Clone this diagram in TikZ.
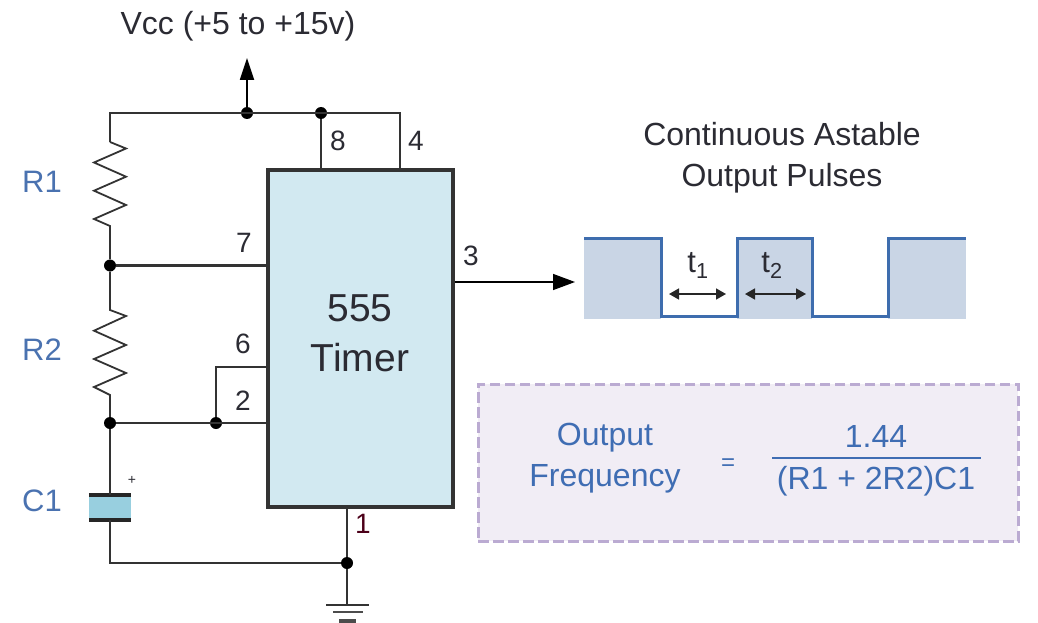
\documentclass[tikz,border=0pt]{standalone}
\usepackage{fontspec}
\setmainfont{Liberation Sans}
\usetikzlibrary{arrows.meta}
\definecolor{wirec}{HTML}{333333}
\definecolor{bluetxt}{HTML}{4A72B0}
\definecolor{formtxt}{HTML}{3F6DB3}
\definecolor{chipfill}{HTML}{D2E9F1}
\definecolor{capfill}{HTML}{98CFDF}
\definecolor{pulsefill}{HTML}{C9D5E5}
\definecolor{pulseline}{HTML}{3E6DAE}
\definecolor{boxfill}{HTML}{F1EDF5}
\definecolor{boxline}{HTML}{BBABD2}
\definecolor{darktxt}{HTML}{2B2B33}
\tikzset{
  wire/.style={draw=wirec,line width=1.8pt,line join=miter},
  chip/.style={draw=black!80,fill=chipfill,line width=3.5pt,minimum width=185pt,minimum height=337pt,inner sep=0pt},
  dot/.style={circle,fill=black,inner sep=0pt,minimum size=12pt},
  txt/.style={inner sep=0pt,anchor=base,text=darktxt,font=\fontsize{32}{36}\selectfont},
  big/.style={txt,font=\fontsize{39}{44}\selectfont},
  pin/.style={txt,font=\fontsize{28}{32}\selectfont},
  lab/.style={txt,text=bluetxt,font=\fontsize{31}{36}\selectfont},
  form/.style={txt,text=formtxt,font=\fontsize{32}{36}\selectfont},
  tick/.style={{Triangle[length=10pt,width=11pt]}-{Triangle[length=10pt,width=11pt]},draw=black!85,line width=1.6pt},
}
\begin{document}
\begin{tikzpicture}[x=1pt,y=-1pt]
\useasboundingbox (0,0) rectangle (1038,623);
% chip
\node[chip] (timer) at (360.5,338.5) {};
\node[big] (t555) at (360,321) {555};
\node[big] (ttimer) at (360,371) {Timer};
% junctions
\node[dot] (jv) at (247,113) {};
\node[dot] (j8) at (321,113) {};
\node[dot] (j7) at (110,265.5) {};
\node[dot] (ja) at (110,423) {};
\node[dot] (jb) at (216,423) {};
\node[dot] (jg) at (347,563) {};
\coordinate (tl) at (110,113);
\coordinate (tr) at (400,113);
\coordinate (r1a) at (110,142);
\coordinate (r1b) at (110,226);
\coordinate (r2a) at (110,310);
\coordinate (r2b) at (110,395);
\coordinate (p6) at (216,367);
\coordinate (vtop) at (247,58);
\coordinate (bl) at (110,563);
% rail
\draw[wire] (r1a) -- (tl) -- (tr) -- (tr |- timer.north);
\draw[wire] (j8) -- (j8 |- timer.north);
\draw[wire,-{Triangle[length=22pt,width=14pt]},draw=black] (jv) -- (vtop);
% resistors
\draw[wire] (r1a) -- (126,148.5) -- (94,162.5) -- (126,176.7) -- (94,190.7) -- (126,205) -- (94,219) -- (r1b) -- (j7);
\draw[wire] (j7) -- (r2a) -- (126,316) -- (94,330.7) -- (126,345) -- (94,359) -- (126,373) -- (94,387) -- (r2b) -- (ja);
% pins left
\draw[wire,line width=2.4pt] (j7) -- (timer.west |- j7);
\draw[wire] (ja) -- (timer.west |- ja);
\draw[wire] (jb) -- (p6) -- (timer.west |- p6);
% capacitor
\node[draw=none,fill=capfill,minimum width=42pt,minimum height=25pt,inner sep=0pt] (cap) at (110,507.5) {};
\draw[line width=3.5pt,draw=black!85] (cap.north west) -- (cap.north east);
\draw[line width=3.5pt,draw=black!85] (cap.south west) -- (cap.south east);
\draw[wire] (ja) -- (cap.north);
\draw[wire] (cap.south) -- (bl) -- (jg);
\node[txt,font=\fontsize{14}{16}\selectfont] (plus) at (132,484) {+};
% ground
\coordinate (g1) at (347,605);
\coordinate (chipb) at (347,507);
\draw[wire] (chipb) -- (jg) -- (g1);
\draw[wire] (326,605) -- (g1) -- (369,605);
\draw[wire,line width=2.2pt,draw=black!70] (333,612) -- (363,612);
\draw[line width=4pt,draw=black!70] (339,620.5) -- (356,620.5);
% output
\coordinate (tipout) at (575,282);
\draw[line width=1.5pt,draw=black,-{Triangle[length=22pt,width=16pt]}] (timer.east |- tipout) -- (tipout);
% pulses
\fill[pulsefill] (584,238) rectangle (661,319);
\fill[pulsefill] (737,238) rectangle (812,319);
\fill[pulsefill] (888,238) rectangle (966,319);
\draw[draw=pulseline,line width=3pt,line join=miter] (584,238) -- (661,238) -- (661,316) -- (737,316) -- (737,238) -- (812,238) -- (812,316) -- (888,316) -- (888,238) -- (966,238);
\coordinate (t1a) at (669,294);
\coordinate (t1b) at (726,294);
\coordinate (t2a) at (745,294);
\coordinate (t2b) at (806,294);
\draw[tick] (t1a) -- (t1b);
\draw[tick] (t2a) -- (t2b);
\node[txt,font=\fontsize{31}{36}\selectfont] (t1) at (698,272) {t\textsubscript{1}};
\node[txt,font=\fontsize{31}{36}\selectfont] (t2) at (772,272) {t\textsubscript{2}};
% dashed formula box
\node[draw=boxline,fill=boxfill,line width=3pt,dash pattern=on 10.5pt off 4.5pt,minimum width=540pt,minimum height=157pt,inner sep=0pt] (fbox) at (748,462.5) {};
\node[form] (fo) at (605,445) {Output};
\node[form] (ff) at (605,486) {Frequency};
\node[form,font=\fontsize{24}{28}\selectfont] (feq) at (728,470) {=};
\node[form] (fn) at (876,447) {1.44};
\node[form] (fd) at (876,489) {(R1 + 2R2)C1};
\coordinate (fl) at (772,458);
\coordinate (fr) at (981,458);
\draw[draw=formtxt,line width=1.8pt] (fl) -- (fr);
% labels
\node[txt] (vcc) at (238,35) {Vcc (+5 to +15v)};
\node[txt] (c1t) at (782,145) {Continuous Astable};
\node[txt] (c2t) at (782,186) {Output Pulses};
\node[lab] (lr1) at (42,192) {R1};
\node[lab] (lr2) at (42,360) {R2};
\node[lab] (lc1) at (42,511) {C1};
\node[pin] (p8) at (338,150) {8};
\node[pin] (p4) at (416,150) {4};
\node[pin] (p7) at (244,252) {7};
\node[pin] (n6) at (243,353) {6};
\node[pin] (p2) at (243,410) {2};
\node[pin] (p3) at (471,265) {3};
\node[pin,text=black!60!purple] (p1) at (363,533) {1};
\end{tikzpicture}
\end{document}
